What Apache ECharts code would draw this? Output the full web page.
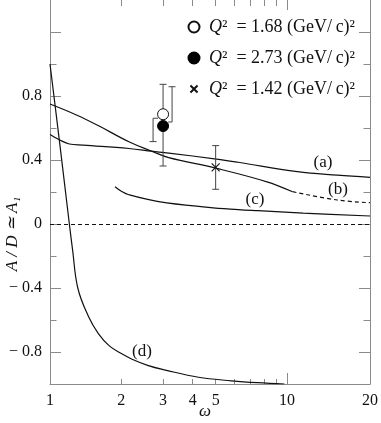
<!DOCTYPE html>
<html>
<head>
<meta charset="utf-8">
<script src="https://cdn.jsdelivr.net/npm/echarts@6/dist/echarts.min.js"></script>
<style>
  html, body { margin: 0; padding: 0; background: #fff; }
  #chart { width: 381px; height: 423px; }
</style>
</head>
<body>
<div id="chart"></div>
<script>
const lg = Math.log10;

// omega where the frame ends (the reference prints "20" at this edge)
const omegaEnd = 22.4;

// curves, omega and A/D values
const aOmega = [1, 1.1, 1.207, 1.379, 2.152, 2.687, 3.17, 5.04, 6.22, 11.05, 16.3, 22.4];
const aVal = [0.56, 0.525, 0.50, 0.493, 0.472, 0.455, 0.443, 0.406, 0.386, 0.327, 0.305, 0.292];

const bOmega = [1, 1.3, 1.612, 2.152, 2.687, 3.17, 5.04, 8.3, 10.56];
const bVal = [0.75, 0.68, 0.612, 0.514, 0.455, 0.415, 0.348, 0.262, 0.202];
const bDashOmega = [10.56, 16.3, 22.4];
const bDashVal = [0.202, 0.15, 0.133];

const cOmega = [1.88, 2.0, 2.152, 2.873, 4.66, 6.22, 7.54, 11.7, 22.4];
const cVal = [0.233, 0.205, 0.183, 0.14, 0.104, 0.09, 0.083, 0.068, 0.05];

const dOmega = [1, 1.1, 1.207, 1.245, 1.31, 1.45, 1.6, 1.775, 2.0, 2.22, 2.6, 3.07, 4.23, 5.83, 7.5, 9.75];
const dVal = [1.0, 0.499, 0.0, -0.16, -0.4, -0.575, -0.685, -0.76, -0.81, -0.845, -0.885, -0.913, -0.958, -0.98, -0.992, -1.0];

// data points: omega, value, error low, error high
const openOmega = [3], openVal = [0.686], openLow = [0.515], openHigh = [0.873];
const fullOmega = [3], fullVal = [0.6125], fullLow = [0.3625], fullHigh = [0.858];
const crossOmega = [5], crossVal = [0.354], crossLow = [0.217], crossHigh = [0.49];

const legendNames = ['Q²\u2002= 1.68 (GeV/\u2009c)²', 'Q²\u2002= 2.73 (GeV/\u2009c)²', 'Q²\u2002= 1.42 (GeV/\u2009c)²'];

// ticks
const xLabelOmega = [1, 2, 3, 4, 5, 10];
const xTickShort = [2, 3, 4, 5, 6, 7, 8, 9];
const xTickLong = [10];
const yLabels = [-0.8, -0.4, 0, 0.4, 0.8];
const yTickLong = [-0.8, -0.4, 0, 0.4, 0.8, 1.2];
const yTickShort = [-1, -0.6, -0.2, 0.2, 0.6, 1.0];

const serif = 'Liberation Serif';
const axisGray = '#8a8a8a';
const ink = '#111';
const crossPath = 'path://M0 0L10 10M10 0L0 10';

const pairs = (xs, ys) => xs.map((w, i) => [lg(w), ys[i]]);
const errData = (xs, v, lo, hi) => xs.map((w, i) => [lg(w), v[i], lo[i], hi[i]]);

const xMax = lg(omegaEnd);

function xAx(position, ticks, len, withLine, withLabel) {
  return {
    type: 'value', position: position, min: 0, max: xMax,
    splitLine: { show: false },
    axisLine: { show: withLine, onZero: false, lineStyle: { color: axisGray, width: 1 } },
    axisTick: { show: true, inside: true, length: len, customValues: ticks.map(lg), lineStyle: { color: axisGray } },
    axisLabel: withLabel ? {
      show: true, margin: 9, color: ink, fontFamily: serif, fontSize: 16,
      customValues: xLabelOmega.map(lg).concat([xMax]),
      formatter: v => (v > xMax - 1e-6 ? '20' : String(Math.round(Math.pow(10, v))))
    } : { show: false }
  };
}

function yAx(position, ticks, len, withLine, withLabel) {
  return {
    type: 'value', position: position, min: -1, max: 1.4,
    splitLine: { show: false },
    axisLine: { show: withLine, onZero: false, lineStyle: { color: axisGray, width: 1 } },
    axisTick: { show: true, inside: true, length: len, customValues: ticks, lineStyle: { color: axisGray } },
    axisLabel: withLabel ? {
      show: true, margin: 8, color: ink, fontFamily: serif, fontSize: 16,
      customValues: yLabels,
      formatter: v => (v < 0 ? '\u2212 ' + Math.abs(v) : String(v))
    } : { show: false }
  };
}

// error bar drawer; the two overlapping points at omega = 3 get one arm shifted aside
function errorBar(kind) {
  return function (params, api) {
    const pc = api.coord([api.value(0), api.value(1)]);
    const pl = api.coord([api.value(0), api.value(2)]);
    const ph = api.coord([api.value(0), api.value(3)]);
    const x = pc[0], cap = 3.5;
    const lines = [];
    const capAt = (cx, cy) => lines.push([[cx - cap, cy], [cx + cap, cy]]);
    if (kind === 'plain') {
      lines.push([[x, pl[1]], [x, ph[1]]]);
      capAt(x, pl[1]); capAt(x, ph[1]);
    } else if (kind === 'lowLeft') {
      lines.push([[x, pc[1]], [x, ph[1]]]);
      capAt(x, ph[1]);
      lines.push([[x - 5, pc[1] + 4], [x - 10, pc[1] + 4], [x - 10, pl[1]]]);
      capAt(x - 10, pl[1]);
    } else {
      lines.push([[x, pc[1]], [x, pl[1]]]);
      capAt(x, pl[1]);
      lines.push([[x + 5, pc[1] - 4], [x + 9, pc[1] - 4], [x + 9, ph[1]]]);
      capAt(x + 9, ph[1]);
    }
    return {
      type: 'group',
      children: lines.map(pts => ({
        type: 'polyline', shape: { points: pts },
        style: { stroke: '#444', lineWidth: 1, fill: null }
      }))
    };
  };
}

function curve(data, dashed) {
  return {
    type: 'line', data: data, showSymbol: false, smooth: 0.4,
    lineStyle: { color: ink, width: 1.2, type: dashed ? [4, 3] : 'solid' },
    silent: true, z: 2
  };
}

const chart = echarts.init(document.getElementById('chart'));

const zeroLine = curve(pairs(aOmega, aVal), false);
zeroLine.markLine = {
  silent: true, symbol: 'none', label: { show: false },
  lineStyle: { color: ink, width: 1, type: [4, 3] },
  data: [{ yAxis: 0 }]
};

const txt = { fontFamily: serif, fontSize: 18, color: ink };

chart.setOption({
  animation: false,
  grid: { left: 50, right: 8, top: 0, bottom: 39 },
  xAxis: [
    xAx('bottom', xTickShort, 5, true, true),
    xAx('bottom', xTickLong, 11, false, false),
    xAx('top', xTickShort, 6, false, false),
    xAx('top', xTickLong, 10, false, false)
  ],
  yAxis: [
    yAx('left', yTickLong, 11, true, true),
    yAx('left', yTickShort, 6.5, false, false),
    yAx('right', yTickLong, 11, true, false),
    yAx('right', yTickShort, 6.5, false, false)
  ],
  legend: {
    orient: 'vertical', left: 186, top: 17, padding: 0, itemWidth: 18, itemHeight: 11, itemGap: 11,
    data: [
      { name: legendNames[0] },
      { name: legendNames[1] },
      // padded path so the legend cross stays as small as in the plot
      { name: legendNames[2], icon: 'path://M0 0M2.5 2.5L11.5 11.5M11.5 2.5L2.5 11.5M14 14' }
    ],
    formatter: name => '{i|Q}{r|' + name.slice(1) + '}',
    textStyle: {
      color: ink, fontFamily: serif, fontSize: 18, lineHeight: 20, padding: [0, 0, 0, 1],
      rich: { i: Object.assign({ fontStyle: 'italic' }, txt), r: txt }
    }
  },
  series: [
    zeroLine,
    curve(pairs(bOmega, bVal), false),
    curve(pairs(bDashOmega, bDashVal), true),
    curve(pairs(cOmega, cVal), false),
    curve(pairs(dOmega, dVal), false),
    { type: 'custom', renderItem: errorBar('plain'), data: errData(crossOmega, crossVal, crossLow, crossHigh), encode: { x: 0, y: [1, 2, 3] }, silent: true, z: 3 },
    { type: 'custom', renderItem: errorBar('highRight'), data: errData(fullOmega, fullVal, fullLow, fullHigh), encode: { x: 0, y: [1, 2, 3] }, silent: true, z: 3 },
    { type: 'custom', renderItem: errorBar('lowLeft'), data: errData(openOmega, openVal, openLow, openHigh), encode: { x: 0, y: [1, 2, 3] }, silent: true, z: 3 },
    {
      name: legendNames[0], type: 'scatter', data: pairs(openOmega, openVal), symbol: 'circle', symbolSize: 11,
      itemStyle: { color: '#fff', borderColor: ink, borderWidth: 1, opacity: 1 }, z: 5
    },
    {
      name: legendNames[1], type: 'scatter', data: pairs(fullOmega, fullVal), symbol: 'circle', symbolSize: 11,
      itemStyle: { color: '#000', borderColor: '#000', borderWidth: 1, opacity: 1 }, z: 4
    },
    {
      name: legendNames[2], type: 'scatter', data: pairs(crossOmega, crossVal), symbol: crossPath, symbolSize: 8,
      itemStyle: { color: 'none', borderColor: ink, borderWidth: 1.1, opacity: 1 }, z: 5
    }
  ],
  graphic: [
    { type: 'text', x: 13, y: 234, rotation: Math.PI / 2,
      style: { text: 'A / D ≃ A₁', fontFamily: serif, fontStyle: 'italic', fontSize: 17, fill: ink, align: 'center', verticalAlign: 'middle' } },
    { type: 'text', x: 205, y: 412,
      style: { text: 'ω', fontFamily: serif, fontStyle: 'italic', fontSize: 17, fill: ink, align: 'center', verticalAlign: 'middle' } },
    { type: 'text', x: 323, y: 163, style: { text: '(a)', fontFamily: serif, fontSize: 17, fill: ink, align: 'center', verticalAlign: 'middle' } },
    { type: 'text', x: 338, y: 190, style: { text: '(b)', fontFamily: serif, fontSize: 17, fill: ink, align: 'center', verticalAlign: 'middle' } },
    { type: 'text', x: 255, y: 200, style: { text: '(c)', fontFamily: serif, fontSize: 17, fill: ink, align: 'center', verticalAlign: 'middle' } },
    { type: 'text', x: 142, y: 352, style: { text: '(d)', fontFamily: serif, fontSize: 17, fill: ink, align: 'center', verticalAlign: 'middle' } }
  ]
});
</script>
</body>
</html>
